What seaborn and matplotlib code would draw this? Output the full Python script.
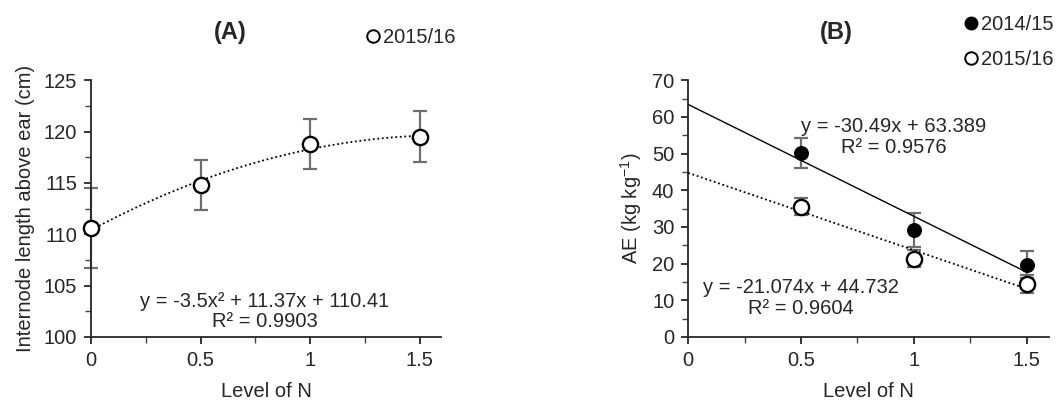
import numpy as np
import pandas as pd
import seaborn as sns
import matplotlib.pyplot as plt
from matplotlib.ticker import MultipleLocator
from matplotlib.lines import Line2D

# Panel A: internode length above ear, 2015/16
n_levels_a = [0, 0.5, 1.0, 1.5]
internode_1516 = [110.6, 114.8, 118.8, 119.5]
internode_err = [3.9, 2.4, 2.4, 2.5]
fit_a = [-3.5, 11.37, 110.41]  # quadratic trendline coefficients

# Panel B: agronomic efficiency
n_levels_b = [0.5, 1.0, 1.5]
ae_1415 = [50.1, 29.2, 19.7]
ae_1415_err = [4.1, 4.7, 3.7]
ae_1516 = [35.5, 21.3, 14.5]
ae_1516_err = [2.3, 2.3, 2.5]
fit_b_1415 = [-30.49, 63.389]
fit_b_1516 = [-21.074, 44.732]

FS = 14.5

sns.set_style("ticks")
plt.rcParams['font.family'] = ['Liberation Sans', 'DejaVu Sans']
plt.rcParams['font.size'] = FS
plt.rcParams['mathtext.fontset'] = 'custom'
plt.rcParams['mathtext.rm'] = 'Liberation Sans'

fig = plt.figure(figsize=(10.62, 4.05), dpi=100)
ax1 = fig.add_axes([0.0857, 0.168, 0.330, 0.634])
ax2 = fig.add_axes([0.648, 0.168, 0.340, 0.634])

err_kw = dict(fmt='none', ecolor='#6e6e6e', elinewidth=1.6, capsize=5, capthick=1.6, clip_on=False, zorder=2)

# ---- Panel A ----
xs = np.linspace(0, 1.5, 100)
curve_a = pd.DataFrame({'x': xs, 'y': np.polyval(fit_a, xs)})
sns.lineplot(data=curve_a, x='x', y='y', ax=ax1, color='black', lw=1.3, linestyle=(0, (1, 1.5)), zorder=3)
ax1.errorbar(n_levels_a, internode_1516, yerr=internode_err, **err_kw)
sns.scatterplot(x=n_levels_a, y=internode_1516, ax=ax1, s=120, facecolor='white',
                edgecolor='black', linewidth=1.7, zorder=4, clip_on=False)

ax1.set_xlim(0, 1.6)
ax1.set_ylim(100, 125)
ax1.set_xticks([0, 0.5, 1, 1.5])
ax1.set_xticklabels(['0', '0.5', '1', '1.5'])
ax1.xaxis.set_minor_locator(MultipleLocator(0.25))
ax1.yaxis.set_major_locator(MultipleLocator(5))
ax1.yaxis.set_minor_locator(MultipleLocator(2.5))
ax1.set_xlabel('Level of N', labelpad=9)
ax1.set_ylabel('Internode length above ear (cm)', labelpad=6)
ax1.text(0.397, 1.184, '(A)', transform=ax1.transAxes, ha='center', va='center',
         fontweight='bold', fontsize=17)
ax1.text(0.496, 0.10, 'y = -3.5x² + 11.37x + 110.41\nR² = 0.9903', transform=ax1.transAxes,
         ha='center', va='center', fontsize=FS, linespacing=1.08)
h_open = Line2D([], [], marker='o', ls='none', mfc='white', mec='black', mew=1.4, ms=9)
ax1.legend([h_open], ['2015/16'], loc='center left', bbox_to_anchor=(0.77, 1.165), frameon=False,
           handletextpad=-0.1, fontsize=FS, handlelength=1.2, borderpad=0, borderaxespad=0)

# ---- Panel B ----
lin1 = pd.DataFrame({'x': xs, 'y': np.polyval(fit_b_1415, xs)})
lin2 = pd.DataFrame({'x': xs, 'y': np.polyval(fit_b_1516, xs)})
sns.lineplot(data=lin1, x='x', y='y', ax=ax2, color='black', lw=1.0, zorder=3)
sns.lineplot(data=lin2, x='x', y='y', ax=ax2, color='black', lw=1.3, linestyle=(0, (1, 1.5)), zorder=3)
ax2.errorbar(n_levels_b, ae_1415, yerr=ae_1415_err, **err_kw)
ax2.errorbar(n_levels_b, ae_1516, yerr=ae_1516_err, **err_kw)
sns.scatterplot(x=n_levels_b, y=ae_1415, ax=ax2, s=95, color='black', edgecolor='black',
                linewidth=1, zorder=4)
sns.scatterplot(x=n_levels_b, y=ae_1516, ax=ax2, s=120, facecolor='white', edgecolor='black',
                linewidth=1.7, zorder=4)

ax2.set_xlim(0, 1.6)
ax2.set_ylim(0, 70)
ax2.set_xticks([0, 0.5, 1, 1.5])
ax2.set_xticklabels(['0', '0.5', '1', '1.5'])
ax2.xaxis.set_minor_locator(MultipleLocator(0.25))
ax2.yaxis.set_major_locator(MultipleLocator(10))
ax2.yaxis.set_minor_locator(MultipleLocator(5))
ax2.set_xlabel('Level of N', labelpad=9)
ax2.set_ylabel('AE (kg kg$^{-1}$)', labelpad=6)
ax2.text(0.41, 1.184, '(B)', transform=ax2.transAxes, ha='center', va='center',
         fontweight='bold', fontsize=17)
ax2.text(0.57, 0.779, 'y = -30.49x + 63.389\nR² = 0.9576', transform=ax2.transAxes,
         ha='center', va='center', fontsize=FS, linespacing=1.08)
ax2.text(0.312, 0.152, 'y = -21.074x + 44.732\nR² = 0.9604', transform=ax2.transAxes,
         ha='center', va='center', fontsize=FS, linespacing=1.08)
h_fill = Line2D([], [], marker='o', ls='none', mfc='black', mec='black', ms=9)
ax2.legend([h_fill, h_open], ['2014/15', '2015/16'], loc='center left', bbox_to_anchor=(0.75, 1.15),
           frameon=False, handletextpad=-0.1, fontsize=FS, handlelength=1.2, labelspacing=0.8,
           borderpad=0, borderaxespad=0)

for ax in (ax1, ax2):
    sns.despine(ax=ax)
    ax.spines['left'].set_linewidth(1.3)
    ax.spines['bottom'].set_linewidth(1.3)
    ax.tick_params(which='major', direction='out', length=5, width=1.3, labelsize=FS, pad=5)
    ax.tick_params(which='minor', direction='out', length=4, width=1.0, color='#444444')

fig.savefig('out.png', dpi=100)
